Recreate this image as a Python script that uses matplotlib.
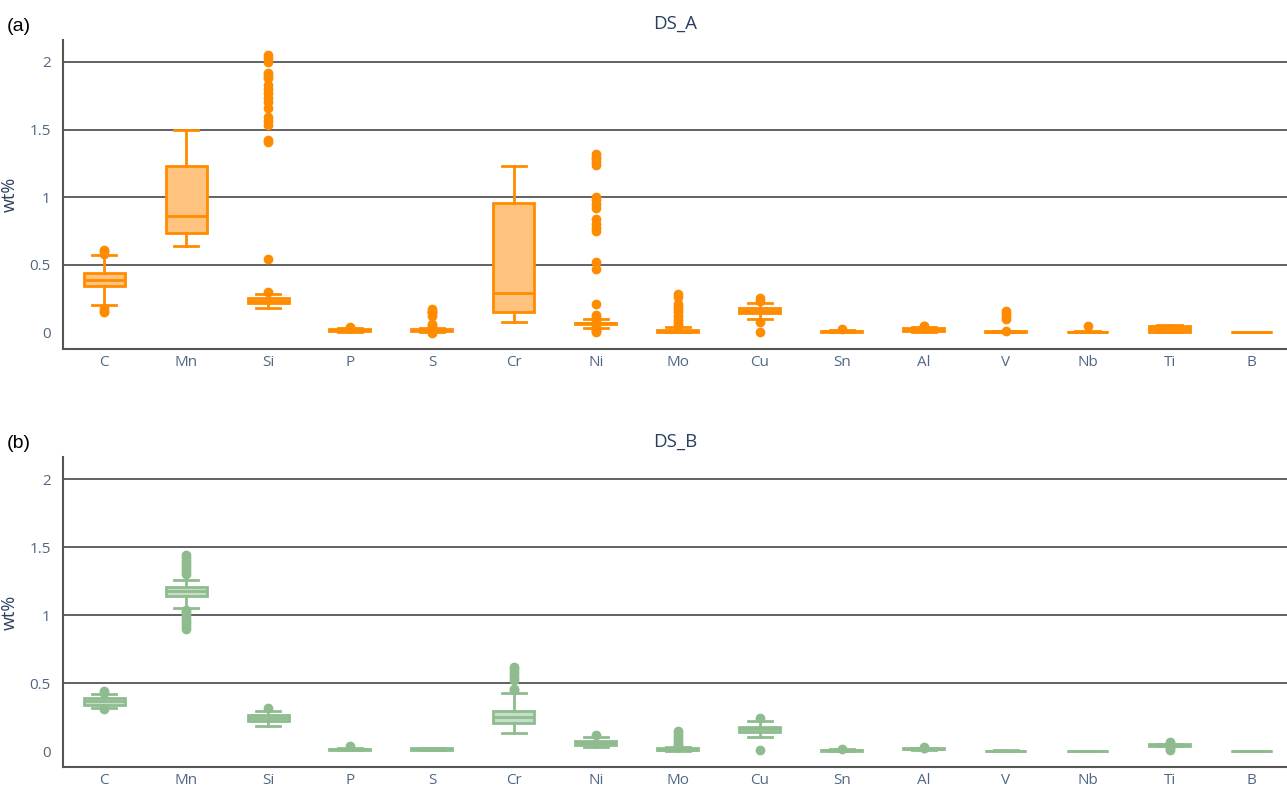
import matplotlib.pyplot as plt
from matplotlib.ticker import FuncFormatter

elements = ["C", "Mn", "Si", "P", "S", "Cr", "Ni", "Mo", "Cu", "Sn", "Al", "V", "Nb", "Ti", "B"]

# ── DS_A box stats (wt%) ──
a_q1   = [0.34, 0.735, 0.215, 0.012, 0.010, 0.150, 0.058, 0.005, 0.140, 0.004, 0.008, 0.002, 0.001, 0.005, 0.000]
a_med  = [0.39, 0.860, 0.235, 0.017, 0.015, 0.293, 0.065, 0.012, 0.160, 0.008, 0.020, 0.004, 0.002, 0.025, 0.001]
a_q3   = [0.44, 1.227, 0.250, 0.022, 0.022, 0.954, 0.072, 0.020, 0.182, 0.012, 0.030, 0.006, 0.003, 0.050, 0.002]
a_wlo  = [0.20, 0.637, 0.180, 0.004, 0.002, 0.076, 0.030, 0.000, 0.100, 0.000, 0.000, 0.000, 0.000, 0.000, 0.000]
a_whi  = [0.575, 1.496, 0.286, 0.030, 0.035, 1.232, 0.095, 0.040, 0.216, 0.020, 0.040, 0.010, 0.006, 0.055, 0.003]
a_out = [
    [0.58, 0.60, 0.61, 0.15, 0.16, 0.18],
    [],
    [2.05, 2.03, 2.0, 1.92, 1.9, 1.88, 1.83, 1.8, 1.77, 1.73, 1.7, 1.66, 1.59, 1.56, 1.53, 1.42, 1.41, 0.54, 0.30],
    [0.035, 0.038],
    [0.17, 0.16, 0.15, 0.14, 0.12, 0.06, 0.05, 0.04, 0.0, -0.005],
    [],
    [1.32, 1.3, 1.28, 1.26, 1.24, 1.0, 0.98, 0.95, 0.92, 0.84, 0.8, 0.77, 0.75,
     0.52, 0.47, 0.21, 0.13, 0.11, 0.1, 0.09, 0.04, 0.02, 0.01, 0.0],
    [0.28, 0.26, 0.21, 0.19, 0.17, 0.15, 0.12, 0.1, 0.08, 0.06, 0.05],
    [0.25, 0.23, 0.076, 0.0],
    [0.022],
    [0.05, 0.045],
    [0.16, 0.14, 0.12, 0.1, 0.012],
    [0.045],
    [],
    [],
]

# ── DS_B box stats (wt%) ──
b_q1   = [0.34, 1.139, 0.221, 0.010, 0.010, 0.204, 0.045, 0.005, 0.142, 0.004, 0.012, 0.002, 0.001, 0.040, 0.000]
b_med  = [0.37, 1.176, 0.245, 0.013, 0.015, 0.253, 0.060, 0.010, 0.160, 0.007, 0.015, 0.003, 0.002, 0.045, 0.001]
b_q3   = [0.389, 1.205, 0.266, 0.017, 0.020, 0.297, 0.075, 0.020, 0.179, 0.010, 0.020, 0.004, 0.003, 0.050, 0.002]
b_wlo  = [0.315, 1.053, 0.187, 0.005, 0.008, 0.130, 0.030, 0.000, 0.105, 0.002, 0.008, 0.001, 0.000, 0.035, 0.000]
b_whi  = [0.42, 1.255, 0.297, 0.025, 0.025, 0.430, 0.100, 0.030, 0.221, 0.012, 0.025, 0.005, 0.004, 0.055, 0.003]
b_out = [
    [0.43, 0.44, 0.31],
    [1.44, 1.42, 1.4, 1.38, 1.36, 1.34, 1.32, 1.3, 1.04, 1.02, 1.0, 0.98, 0.96, 0.94, 0.92, 0.9],
    [0.32],
    [0.035],
    [],
    [0.62, 0.6, 0.58, 0.56, 0.54, 0.52, 0.46, 0.45],
    [0.12],
    [0.15, 0.13, 0.11, 0.09, 0.07, 0.05, 0.04],
    [0.245, 0.008],
    [0.012],
    [0.03, 0.025, 0.02],
    [],
    [],
    [0.065, 0.06, 0.03, 0.02, 0.01],
    [],
]

TICK_COLOR = "#506784"
TITLE_COLOR = "#2a3f5f"
plt.rcParams["font.family"] = ["Open Sans", "DejaVu Sans"]


def make_stats(q1, med, q3, wlo, whi, out):
    stats = []
    for i, name in enumerate(elements):
        stats.append(dict(label=name, q1=q1[i], med=med[i], q3=q3[i],
                          whislo=wlo[i], whishi=whi[i], fliers=out[i]))
    return stats


def draw_panel(ax, stats, color, fill, title, tag, ylim):
    # gridlines first so the boxes sit on top
    for yv in [0.5, 1, 1.5, 2]:
        ax.axhline(yv, color="#555555", lw=1.3, zorder=0)
    ax.bxp(stats, positions=range(len(stats)), widths=0.5, patch_artist=True,
           boxprops=dict(facecolor=fill, edgecolor=color, linewidth=2),
           medianprops=dict(color=color, linewidth=2),
           whiskerprops=dict(color=color, linewidth=2),
           capprops=dict(color=color, linewidth=2),
           capwidths=0.3,
           flierprops=dict(marker="o", markerfacecolor=color, markeredgecolor=color,
                           markersize=6, linestyle="none"))
    ax.set_xlim(-0.5, 14.43)
    ax.set_ylim(*ylim)
    ax.set_yticks([0, 0.5, 1, 1.5, 2])
    ax.yaxis.set_major_formatter(FuncFormatter(lambda v, p: f"{v:g}"))
    ax.set_xticks(range(len(elements)))
    ax.set_xticklabels(elements)
    ax.tick_params(axis="both", length=0, colors=TICK_COLOR, labelsize=11)
    ax.tick_params(axis="x", pad=4)
    ax.tick_params(axis="y", pad=9)
    for s in ["top", "right"]:
        ax.spines[s].set_visible(False)
    for s in ["left", "bottom"]:
        ax.spines[s].set_color("#555555")
        ax.spines[s].set_linewidth(1.5)
    ax.set_ylabel("wt%", color=TITLE_COLOR, fontsize=13)
    ax.yaxis.set_label_coords(-0.036, 0.5)
    ax.set_title(title, color=TITLE_COLOR, fontsize=13.5, pad=8)
    ax.text(-0.046, 1.03, tag, transform=ax.transAxes, fontsize=14,
            family="Liberation Sans", color="black")


fig = plt.figure(figsize=(12.87, 7.9), dpi=100)
ax_a = fig.add_axes([0.049, 0.558, 0.951, 0.391])
ax_b = fig.add_axes([0.049, 0.029, 0.951, 0.392])

draw_panel(ax_a, make_stats(a_q1, a_med, a_q3, a_wlo, a_whi, a_out),
           "#ff8c00", "#ffc37f", "DS_A", "(a)", (-0.125, 2.16))
draw_panel(ax_b, make_stats(b_q1, b_med, b_q3, b_wlo, b_whi, b_out),
           "#8fbc8f", "#c7ddc7", "DS_B", "(b)", (-0.118, 2.16))

fig.savefig("out.png", dpi=100)
